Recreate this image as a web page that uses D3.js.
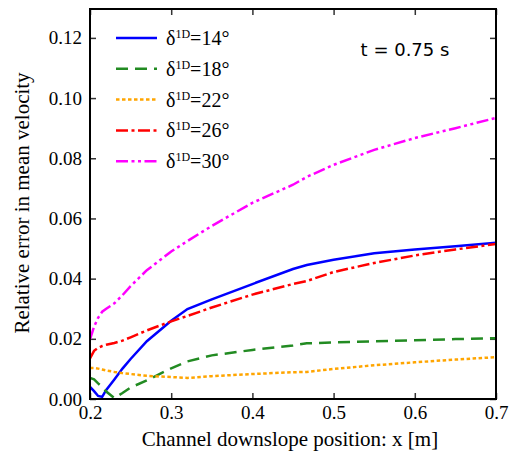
<!DOCTYPE html>
<html lang="en">
<head>
<meta charset="utf-8">
<script src="https://cdn.jsdelivr.net/npm/d3@7"></script>
</head>
<body style="margin:0;background:#fff">
<svg width="512" height="453" font-family="Liberation Serif"></svg>
<script>
// x positions along the channel [m]
const xPos = [0.200, 0.205, 0.210, 0.215, 0.220, 0.230, 0.240, 0.250, 0.270, 0.300,
              0.320, 0.350, 0.400, 0.450, 0.467, 0.500, 0.550, 0.600, 0.650, 0.700]

const err14 = [0.0040, 0.0026, 0.0010, 0.0007, 0.0030, 0.0065, 0.0101, 0.0133, 0.0192, 0.0260,
               0.0299, 0.0331, 0.0382, 0.0432, 0.0445, 0.0463, 0.0484, 0.0497, 0.0508, 0.0519]
const err18 = [0.0070, 0.0065, 0.0052, 0.0040, 0.0025, 0.0003, 0.0020, 0.0038, 0.0062, 0.0102,
               0.0125, 0.0145, 0.0163, 0.0178, 0.0185, 0.0188, 0.0192, 0.0195, 0.0199, 0.0202]
const err22 = [0.0103, 0.0103, 0.0101, 0.0098, 0.0095, 0.0090, 0.0086, 0.0083, 0.0077, 0.0073,
               0.0070, 0.0076, 0.0083, 0.0089, 0.0090, 0.0100, 0.0112, 0.0122, 0.0131, 0.0139]
const err26 = [0.0135, 0.0160, 0.0170, 0.0176, 0.0180, 0.0186, 0.0194, 0.0205, 0.0228, 0.0258,
               0.0276, 0.0304, 0.0347, 0.0382, 0.0392, 0.0422, 0.0452, 0.0477, 0.0497, 0.0515]
const err30 = [0.0198, 0.0240, 0.0270, 0.0290, 0.0300, 0.0318, 0.0345, 0.0375, 0.0428, 0.0490,
               0.0525, 0.0575, 0.0652, 0.0712, 0.0738, 0.0778, 0.0828, 0.0867, 0.0900, 0.0934]

const angles = ["14", "18", "22", "26", "30"]
const xTicks = [0.2, 0.3, 0.4, 0.5, 0.6, 0.7]
const yTicks = [0.00, 0.02, 0.04, 0.06, 0.08, 0.10, 0.12]

const series = [
  { angle: angles[0], vals: err14, color: "#0000ff", dash: null },
  { angle: angles[1], vals: err18, color: "#228b22", dash: "12,7" },
  { angle: angles[2], vals: err22, color: "#ffa500", dash: "3.5,2.5" },
  { angle: angles[3], vals: err26, color: "#ff0000", dash: "12,3.5,3,3.5" },
  { angle: angles[4], vals: err30, color: "#ff00ff", dash: "12,3.5,3,3.5,3,3.5" }
]

const serif = "font-family:'Liberation Serif','Times New Roman',serif;"

const svg = d3.select("svg")
const padL = 90, padR = 496, padT = 9, padB = 399

const x = d3.scaleLinear().domain([0.2, 0.7]).range([padL, padR])
const y = d3.scaleLinear().domain([0, 0.1296]).range([padB, padT])

// ticks, inward on all four sides
const tickLen = 6
const axes = [
  { ax: d3.axisBottom(x), tr: `translate(0,${padB})`, pad: 7, fmt: d3.format(".1f"), vals: xTicks },
  { ax: d3.axisTop(x), tr: `translate(0,${padT})`, pad: 0, fmt: null, vals: xTicks },
  { ax: d3.axisLeft(y), tr: `translate(${padL},0)`, pad: 8, fmt: d3.format(".2f"), vals: yTicks },
  { ax: d3.axisRight(y), tr: `translate(${padR},0)`, pad: 0, fmt: null, vals: yTicks }
]
axes.forEach(a => {
  const g = svg.append("g")
    .attr("transform", a.tr)
    .call(a.ax.tickValues(a.vals).tickSizeInner(-tickLen).tickSizeOuter(0)
      .tickPadding(a.pad)
      .tickFormat(a.fmt ? a.fmt : ""))
  g.attr("font-family", "Liberation Serif").attr("font-size", 19)
  g.select(".domain").remove()
  g.selectAll(".tick line").attr("stroke", "#333").attr("stroke-width", 1.5)
  g.selectAll(".tick text")
    .attr("font-family", "Liberation Serif")
    .attr("style", serif + "font-size:19px")
    .attr("fill", "#000")
})

// lines
const line = d3.line()
  .x((d, i) => x(xPos[i]))
  .y(d => y(d))

const plot = svg.append("g")
plot.append("clipPath").attr("id", "clip")
  .append("rect").attr("x", padL).attr("y", padT).attr("width", padR - padL).attr("height", padB - padT)

plot.selectAll("path")
  .data(series)
  .enter()
  .append("path")
  .attr("clip-path", "url(#clip)")
  .attr("d", d => line(d.vals))
  .attr("fill", "none")
  .attr("stroke", d => d.color)
  .attr("stroke-width", 2.5)
  .attr("stroke-dasharray", d => d.dash)

// frame
svg.append("rect")
  .attr("x", padL).attr("y", padT)
  .attr("width", padR - padL).attr("height", padB - padT)
  .attr("fill", "none").attr("stroke", "#000").attr("stroke-width", 2)

// legend
const legend = svg.append("g")
series.forEach((s, i) => {
  const ly = 38 + i * 30.8
  legend.append("line")
    .attr("x1", 116).attr("x2", 157)
    .attr("y1", ly).attr("y2", ly)
    .attr("stroke", s.color).attr("stroke-width", 2.5)
    .attr("stroke-dasharray", s.dash)
  const t = legend.append("text")
    .attr("x", 166).attr("y", ly + 7)
    .attr("font-family", "Liberation Serif")
    .attr("style", serif + "font-size:20px")
  t.append("tspan").text("δ")
  t.append("tspan").attr("dy", -7).attr("style", serif + "font-size:12px").text("1D")
  t.append("tspan").attr("dy", 7).text("=" + s.angle + "°")
})

// time label
svg.append("text")
  .attr("x", 405).attr("y", 56)
  .attr("text-anchor", "middle")
  .attr("font-family", "DejaVu Sans")
  .attr("style", "font-family:'DejaVu Sans';font-size:18px")
  .text("t = 0.75 s")

// axis titles
svg.append("text")
  .attr("x", (padL + padR) / 2 - 3).attr("y", 446)
  .attr("text-anchor", "middle")
  .attr("font-family", "Liberation Serif")
  .attr("style", serif + "font-size:21px")
  .text("Channel downslope position: x [m]")

svg.append("text")
  .attr("transform", "translate(29,203) rotate(-90)")
  .attr("text-anchor", "middle")
  .attr("font-family", "Liberation Serif")
  .attr("style", serif + "font-size:21px")
  .text("Relative error in mean velocity")

// re-append the serif texts so their font is resolved again after everything is drawn
svg.selectAll("text").each(function () {
  this.getComputedTextLength()
  this.parentNode.appendChild(this)
})
</script>
</body>
</html>
